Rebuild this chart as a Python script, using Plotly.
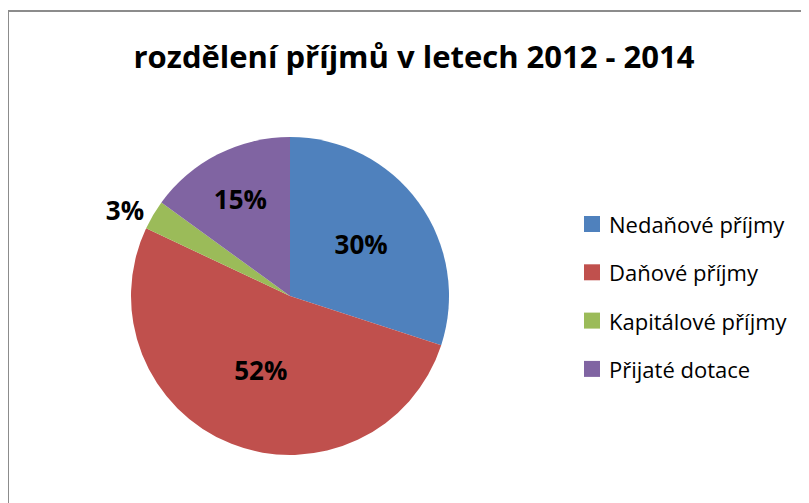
import plotly.graph_objects as go

# data
labels = ['Nedaňové příjmy', 'Daňové příjmy', 'Kapitálové příjmy', 'Přijaté dotace']
values = [30, 52, 3, 15]
colors = ['#4F81BD', '#C0504D', '#9BBB59', '#8064A2']
text_pos = ['inside', 'inside', 'outside', 'inside']

# page has an 8px body margin, so the figure is a bit smaller than the window
W, H = 801, 495
font = 'Open Sans'

fig = go.Figure(go.Pie(
    labels=labels, values=values, sort=False, direction='clockwise', rotation=0,
    marker=dict(colors=colors, line=dict(width=0)),
    texttemplate='%{percent:.0%}', textposition=text_pos,
    insidetextorientation='horizontal',
    textfont=dict(family=font, size=26, color='black', weight='bold'),
    domain=dict(x=[123 / W, 441 / W], y=[1 - 447 / H, 1 - 129 / H]),
    showlegend=False,
    hoverinfo='label+percent',
))

# chart border (Excel style frame)
fig.add_shape(type='rect', xref='paper', yref='paper',
              x0=0, x1=1.05, y0=-0.05, y1=1 - 3 / H,
              line=dict(color='#8c8c8c', width=2), fillcolor='rgba(0,0,0,0)')

# legend drawn by hand to get Excel-like row spacing
for i, (lab, col) in enumerate(zip(labels, colors)):
    yc = 216 + i * 48.3
    fig.add_shape(type='rect', xref='paper', yref='paper',
                  x0=576 / W, x1=592 / W, y0=1 - (yc + 8) / H, y1=1 - (yc - 8) / H,
                  line=dict(width=0), fillcolor=col)
    fig.add_annotation(x=599 / W, y=1 - yc / H, xref='paper', yref='paper',
                       text=lab, showarrow=False, xanchor='left', yanchor='middle',
                       font=dict(family=font, size=22, color='black'))

fig.update_layout(
    width=W, height=H,
    margin=dict(l=0, r=0, t=0, b=0),
    paper_bgcolor='white',
    title=dict(text='<b>rozdělení příjmů v letech 2012 - 2014</b>',
               x=406 / W, xanchor='center', y=1 - 49 / H, yanchor='middle',
               font=dict(family=font, size=31, color='black')),
)

fig.write_html('out.html')
